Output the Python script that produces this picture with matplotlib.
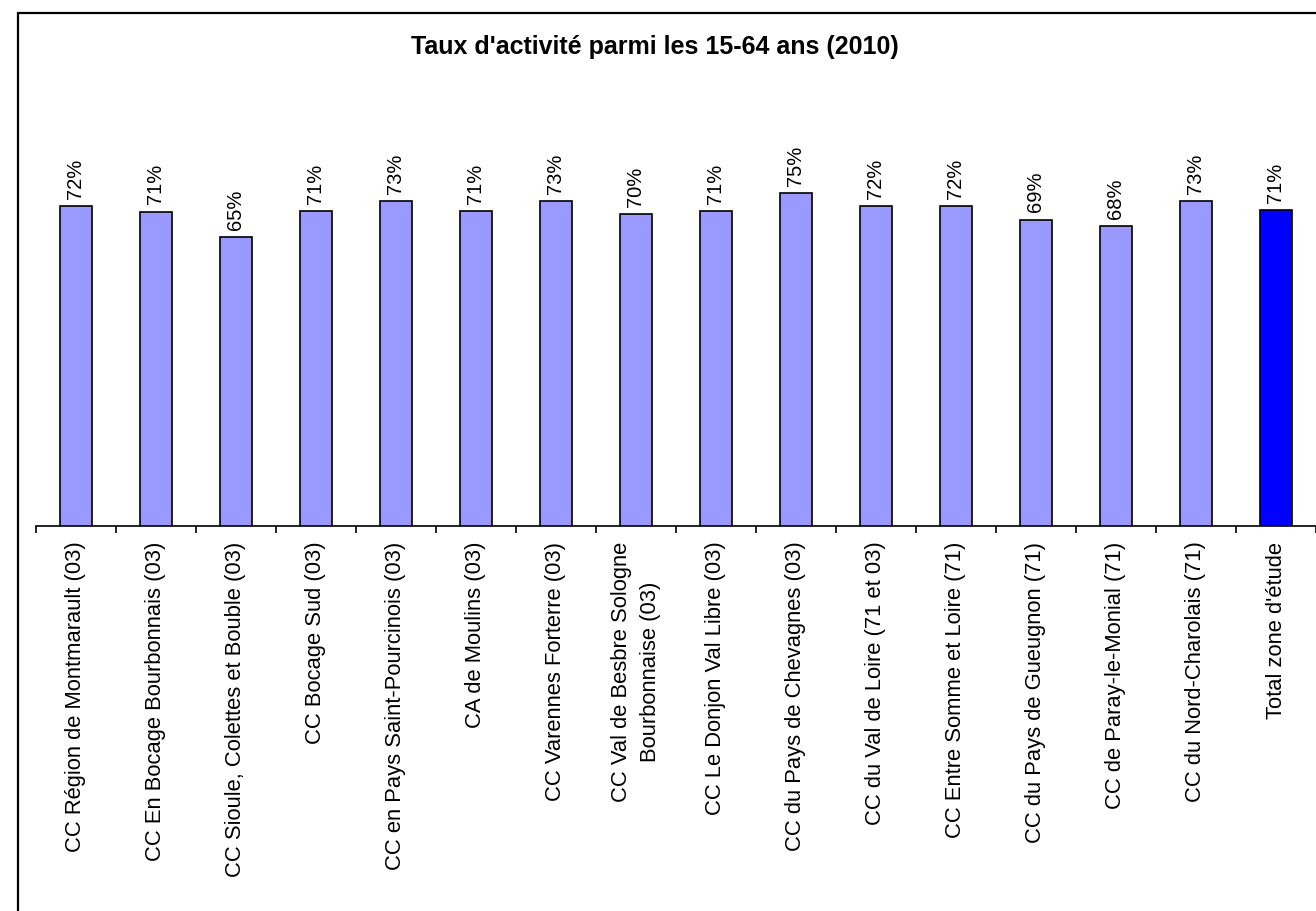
import matplotlib
matplotlib.use("Agg")
import matplotlib.pyplot as plt
from matplotlib.patches import Rectangle
import numpy as np

plt.rcParams['font.family'] = ['Liberation Sans', 'DejaVu Sans']

title = "Taux d'activité parmi les 15-64 ans (2010)"
categories = [
    "CC Région de Montmarault (03)",
    "CC En Bocage Bourbonnais (03)",
    "CC Sioule, Colettes et Bouble (03)",
    "CC Bocage Sud (03)",
    "CC en Pays Saint-Pourcinois (03)",
    "CA de Moulins (03)",
    "CC Varennes Forterre (03)",
    "CC Val de Besbre Sologne\nBourbonnaise (03)",
    "CC Le Donjon Val Libre (03)",
    "CC du Pays de Chevagnes (03)",
    "CC du Val de Loire (71 et 03)",
    "CC Entre Somme et Loire (71)",
    "CC du Pays de Gueugnon (71)",
    "CC de Paray-le-Monial (71)",
    "CC du Nord-Charolais (71)",
    "Total zone d'étude",
]
rates = [72.0, 70.8, 65.1, 70.9, 73.2, 70.9, 73.2, 70.2,
         70.9, 75.0, 72.1, 72.1, 69.0, 67.6, 73.1, 71.2]
bar_colors = ["#9999FF"] * 15 + ["#0000FF"]

W, H = 1316, 912
fig = plt.figure(figsize=(W / 100, H / 100), dpi=100)

# outer frame of the chart area
fig.patches.append(Rectangle((17.5 / W, -0.1), 2.0, 1 - 13.5 / H + 0.1,
                             transform=fig.transFigure, fill=False,
                             edgecolor="black", linewidth=1.6, zorder=0))

ax = fig.add_axes([36 / W, 1 - 527 / H, (W - 36) / W, (527 - 83) / H])
x = np.arange(len(categories))
bars = ax.bar(x, rates, width=0.4, color=bar_colors, edgecolor="black",
              linewidth=1.2, zorder=3)

for xi, v in zip(x, rates):
    ax.annotate(f"{v:.0f}%", (xi, v), xytext=(0, 6), textcoords="offset points",
                rotation=90, ha="center", va="bottom", fontsize=14.5)

ax.set_xlim(-0.5, len(categories) - 0.5)
ax.set_ylim(0, 100)
ax.set_yticks([])
for side in ("left", "right", "top"):
    ax.spines[side].set_visible(False)
ax.spines["bottom"].set_linewidth(1.2)

ax.set_xticks(x)
ax.set_xticklabels(categories, rotation=90, fontsize=15.8, ha="center",
                   va="top", multialignment="center", linespacing=1.45)
ax.tick_params(axis="x", which="major", length=0, pad=10.5)
ax.set_xticks(np.arange(-0.5, len(categories), 1.0), minor=True)
ax.tick_params(axis="x", which="minor", length=5, width=1.2,
               direction="out", color="black")

fig.text(655 / W, 1 - 47 / H, title, ha="center", va="center",
         fontsize=18, fontweight="bold")

fig.savefig("out.png", dpi=100, facecolor="white")
